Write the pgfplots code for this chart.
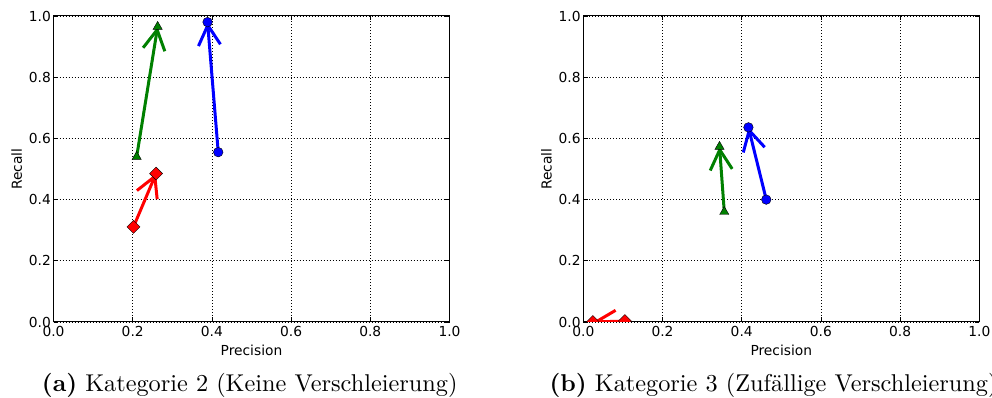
\documentclass[border=0pt]{standalone}
\usepackage{fontspec}
\usepackage{pgfplots}
\pgfplotsset{compat=1.18}
\usetikzlibrary{arrows.meta}
\newfontfamily\dejavu{DejaVu Sans}
\newfontfamily\capfont{lmroman10-regular.otf}[BoldFont=lmroman10-bold.otf]
\definecolor{mplgreen}{rgb}{0,0.5,0}
\definecolor{mplblue}{rgb}{0,0,1}
\definecolor{mplred}{rgb}{1,0,0}

\pgfplotsset{
  prplot/.style={
    scale only axis,
    width=396pt, height=306pt,
    anchor=south west,
    xmin=0, xmax=1, ymin=0, ymax=1,
    xtick={0,0.2,...,1.0}, ytick={0,0.2,...,1.0},
    xticklabel style={/pgf/number format/fixed,/pgf/number format/fixed zerofill,/pgf/number format/precision=1},
    yticklabel style={/pgf/number format/fixed,/pgf/number format/fixed zerofill,/pgf/number format/precision=1},
    /pgf/number format/assume math mode=true,
    tick label style={font=\dejavu\fontsize{13.8}{16}\selectfont, inner sep=0pt},
    xticklabel style={anchor=north, yshift=-4pt},
    yticklabel style={anchor=east, xshift=-2.5pt},
    label style={font=\dejavu\fontsize{13.8}{16}\selectfont, inner sep=0pt},
    xlabel={Precision}, ylabel={Recall},
    xlabel style={at={(axis description cs:0.5,-0.108)}, anchor=base},
    ylabel style={at={(axis description cs:-0.08,0.5)}, anchor=base, rotate=0},
    tick align=inside, major tick length=4.5pt,
    every tick/.style={black, line width=0.8pt},
    axis line style={line width=1pt, black},
    grid=major,
    major grid style={black, line width=0.6pt, dash pattern=on 1pt off 2pt},
    clip marker paths=true,
  },
  vec/.style={line width=3pt, -{Straight Barb[length=20pt, width=22pt, line width=3pt]}},
  mk/.style={only marks, mark options={draw=black, line width=0.8pt}},
}

\begin{document}
\begin{tikzpicture}
\path[use as bounding box] (0,0) rectangle (992pt,398pt);

% Kategorie 2
\begin{axis}[prplot, at={(53.5pt,76pt)}]
  \addplot[vec, mplgreen] coordinates {(0.210,0.540) (0.263,0.965)};
  \addplot[vec, mplblue]  coordinates {(0.416,0.555) (0.389,0.980)};
  \addplot[vec, mplred]   coordinates {(0.202,0.311) (0.259,0.485)};
  \addplot[mk, mark=triangle*, mark size=5.3pt, mark options={fill=mplgreen}] coordinates {(0.210,0.540) (0.263,0.965)};
  \addplot[mk, mark=*, mark size=4.8pt, mark options={fill=mplblue}] coordinates {(0.416,0.555) (0.389,0.980)};
  \addplot[mk, mark=square*, mark size=4.6pt, mark options={fill=mplred, rotate=45}] coordinates {(0.202,0.311) (0.259,0.485)};
\end{axis}

% Kategorie 3
\begin{axis}[prplot, at={(583.3pt,76pt)}]
  \addplot[vec, mplgreen] coordinates {(0.356,0.360) (0.344,0.573)};
  \addplot[vec, mplblue]  coordinates {(0.462,0.400) (0.417,0.636)};
  \addplot[vec, mplred]   coordinates {(0.105,0.003) (0.024,0.000)};
  \addplot[mk, mark=triangle*, mark size=5.3pt, mark options={fill=mplgreen}] coordinates {(0.356,0.360) (0.344,0.573)};
  \addplot[mk, mark=*, mark size=4.8pt, mark options={fill=mplblue}] coordinates {(0.462,0.400) (0.417,0.636)};
  \addplot[mk, mark=square*, mark size=4.6pt, mark options={fill=mplred, rotate=45}] coordinates {(0.105,0.003) (0.024,0.000)};
\end{axis}

\node[anchor=base west, inner sep=0pt, font=\capfont\fontsize{24.3}{28}\selectfont] at (41.7pt,6.7pt) {\textbf{(a)} Kategorie 2 (Keine Verschleierung)};
\node[anchor=base west, inner sep=0pt, font=\capfont\fontsize{24.3}{28}\selectfont] at (549.3pt,6.7pt) {\textbf{(b)} Kategorie 3 (Zufällige Verschleierung)};
\end{tikzpicture}
\end{document}
